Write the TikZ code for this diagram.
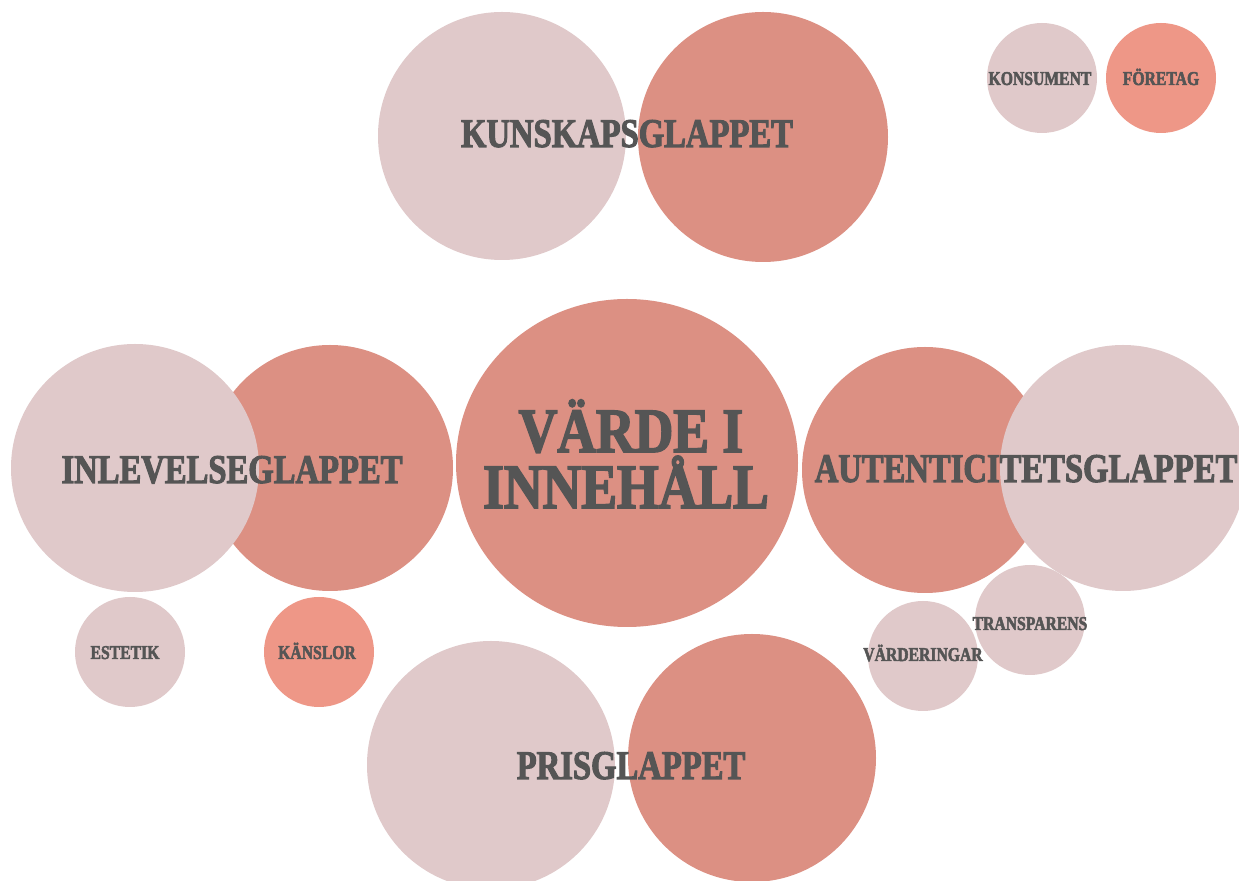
\documentclass[tikz,border=0pt]{standalone}
\usepackage{fontspec}
\usetikzlibrary{shapes.geometric}
\newfontfamily\glappfont[FakeStretch=0.8,FakeBold=2.5]{Liberation Serif}
\newfontfamily\vardefont[FakeStretch=0.85,FakeBold=2.5]{Liberation Serif}
\definecolor{rosa}{HTML}{E0C9CA}
\definecolor{rost}{HTML}{DC9083}
\definecolor{lax}{HTML}{EE9787}
\definecolor{grafit}{HTML}{555555}

\begin{document}
\begin{tikzpicture}[x=0.5pt,y=-0.5pt,
  ball/.style={circle,inner sep=0pt,minimum size=#1},
  stor/.style={text=grafit,inner sep=0pt,anchor=base,font=\glappfont\bfseries\fontsize{20.4}{24}\selectfont},
  liten/.style={text=grafit,inner sep=0pt,anchor=base,font=\glappfont\bfseries\fontsize{9.8}{12}\selectfont}]

\useasboundingbox[fill=white] (0,0) rectangle (1239,881);

% top pair
\node[ball=124pt,fill=rosa] (kunskap-k) at (502,136) {};
\node[ball=125pt,fill=rost] (kunskap-f) at (763,137) {};

% legend
\node[ball=55pt,fill=rosa] (konsument) at (1042,78) {};
\node[ball=55pt,fill=lax] (foretag) at (1161,78) {};

% left pair
\node[ball=123pt,fill=rost] (inlevelse-f) at (330,468) {};
\node[ball=124pt,fill=rosa] (inlevelse-k) at (135,468) {};
\node[ball=55pt,fill=rosa] (estetik) at (130,652) {};
\node[ball=55pt,fill=lax] (kanslor) at (319,652) {};

% centre
\node[ellipse,inner sep=0pt,minimum width=171pt,minimum height=164pt,fill=rost] (varde) at (627,463) {};

% right pair
\node[ball=55pt,fill=rosa] (transparens) at (1030,620) {};
\node[ball=55pt,fill=rosa] (varderingar) at (923,656) {};
\node[ball=123pt,fill=rost] (autentic-f) at (925,470) {};
\node[ball=123pt,fill=rosa] (autentic-k) at (1123,468) {};

% bottom pair
\node[ball=124pt,fill=rosa] (pris-k) at (491,765) {};
\node[ball=124pt,fill=rost] (pris-f) at (752,758) {};

% texts
\node[stor] (t-kunskap) at (627,147) {KUNSKAPSGLAPPET};
\node[stor] (t-inlevelse) at (232,483) {INLEVELSEGLAPPET};
\node[stor] (t-autentic) at (1026,482) {AUTENTICITETSGLAPPET};
\node[stor] (t-pris) at (631,779) {PRISGLAPPET};
\node[stor,font=\vardefont\bfseries\fontsize{31.5}{28}\selectfont] (t-varde1) at (631,452) {VÄRDE I};
\node[stor,font=\vardefont\bfseries\fontsize{31.5}{28}\selectfont] (t-varde2) at (626,508) {INNEHÅLL};

\node[liten] (t-konsument) at (1040,85) {KONSUMENT};
\node[liten] (t-foretag) at (1161,85) {FÖRETAG};
\node[liten] (t-estetik) at (125,659) {ESTETIK};
\node[liten] (t-kanslor) at (317,659) {KÄNSLOR};
\node[liten] (t-transparens) at (1030,630) {TRANSPARENS};
\node[liten] (t-varderingar) at (923,661) {VÄRDERINGAR};

\end{tikzpicture}
\end{document}
